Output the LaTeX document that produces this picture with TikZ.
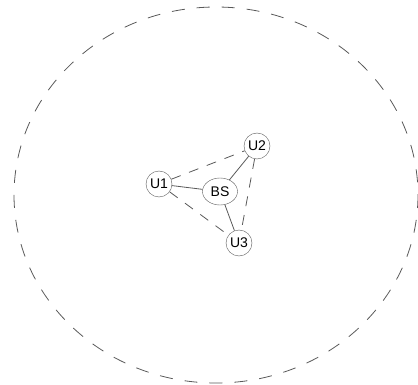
\documentclass[tikz,border=0pt]{standalone}
\usepackage{fontspec}
\setmainfont{Liberation Sans}
\usepackage{tikz}
\usetikzlibrary{shapes.geometric, positioning}

\begin{document}
\begin{tikzpicture}[x=1pt, y=-1pt,
        user/.style={draw=black!65, circle, minimum size=26pt, inner sep=0pt, font=\fontsize{14}{16}\selectfont},
        station/.style={draw=black!65, ellipse, minimum width=35pt, minimum height=27pt, inner sep=0pt, font=\fontsize{14}{16}\selectfont},
        link/.style={draw=black!65, line width=0.8pt},
        interfere/.style={draw=black!65, line width=0.8pt, dash pattern=on 10pt off 9pt}
    ]
        \useasboundingbox (0,0) rectangle (418,385);

        % coverage area
        \draw[black!65, line width=0.8pt, dash pattern=on 13pt off 12pt] (216,195) ellipse [x radius=202, y radius=188];

        \node[station] (bs) at (220,191.5) {BS};
        \node[user] (u1) at (159,184) {U1};
        \node[user] (u2) at (257,146) {U2};
        \node[user] (u3) at (239,243) {U3};

        \draw[link] (u1) -- (bs);
        \draw[link] (bs) -- (u2);
        \draw[link] (bs) -- (u3);

        \draw[interfere] (u1) -- (u2);
        \draw[interfere] (u1) -- (u3);
        \draw[interfere] (u2) -- (u3);
    \end{tikzpicture}
\end{document}
